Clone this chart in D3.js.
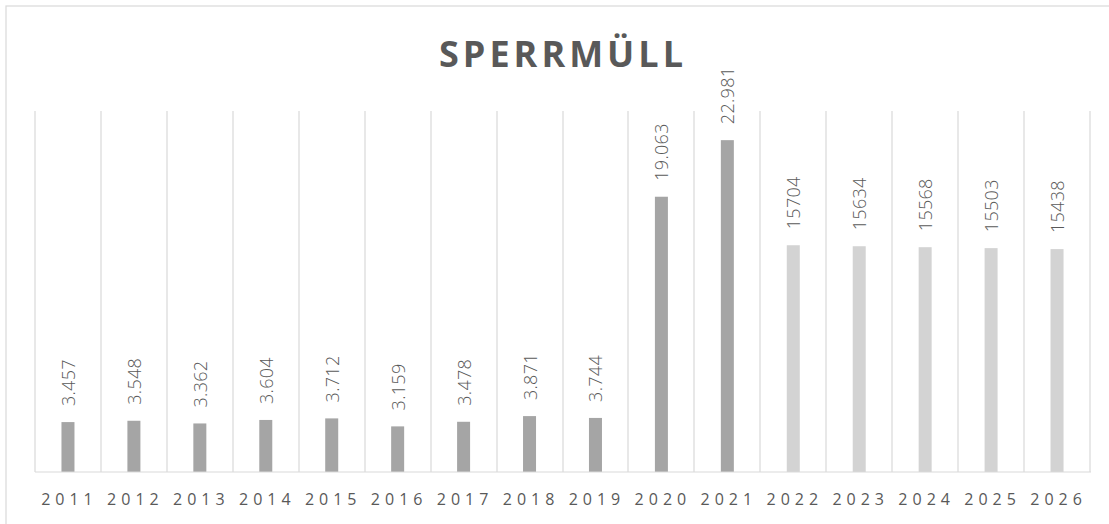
<!DOCTYPE html>
<html><head><meta charset="utf-8">
<script src="https://cdn.jsdelivr.net/npm/d3@7"></script>
<style>html,body{margin:0;padding:0;background:#fff;overflow:hidden}</style>
</head><body>
<svg id="c" width="1109" height="524"></svg>
<script>
const years = ["2011","2012","2013","2014","2015","2016","2017","2018","2019","2020","2021","2022","2023","2024","2025","2026"];
const values = [3457,3548,3362,3604,3712,3159,3478,3871,3744,19063,22981,15704,15634,15568,15503,15438];
const isForecast = [false,false,false,false,false,false,false,false,false,false,false,true,true,true,true,true];
const title = "SPERRMÜLL";

const svg = d3.select("#c");
const pLeft = 35, pRight = 1090, pTop = 111, pBottom = 472;

svg.append("rect").attr("x",6).attr("y",6).attr("width",1110).attr("height",530)
  .attr("fill","#fff").attr("stroke","#d9d9d9").attr("stroke-width",1.2);

const x = d3.scaleBand().domain(years).range([pLeft,pRight]).paddingInner(0).paddingOuter(0);
const y = d3.scaleLinear().domain([0,25000]).range([pBottom,pTop]);

const bounds = years.map(d=>x(d)).concat([x(years[years.length-1])+x.bandwidth()]);
svg.append("g").selectAll("line").data(bounds).join("line")
  .attr("x1",d=>Math.round(d)).attr("x2",d=>Math.round(d))
  .attr("y1",pTop).attr("y2",pBottom)
  .attr("stroke","#d9d9d9").attr("stroke-width",1.2);

const bw = 13;
svg.append("g").selectAll("rect").data(years).join("rect")
  .attr("x",(d)=>x(d)+x.bandwidth()/2-bw/2)
  .attr("width",bw)
  .attr("y",(d,i)=>y(values[i]))
  .attr("height",(d,i)=>pBottom-y(values[i]))
  .attr("fill",(d,i)=>isForecast[i]?"#d3d3d3":"#a5a5a5");

svg.append("line").attr("x1",pLeft).attr("x2",pRight+1).attr("y1",pBottom).attr("y2",pBottom)
  .attr("stroke","#d9d9d9").attr("stroke-width",1.2);

const fmtDE = v => d3.format(",")(v).replace(/,/g,".");
svg.append("g").selectAll("text").data(years).join("text")
  .attr("transform",(d,i)=>`translate(${x(d)+x.bandwidth()/2+7},${y(values[i])-16}) rotate(-90)`)
  .attr("text-anchor","start")
  .attr("font-family","'Open Sans', sans-serif")
  .attr("font-weight",300)
  .attr("font-size",18)
  .attr("letter-spacing",0.3)
  .attr("fill","#595959")
  .text((d,i)=>isForecast[i]?String(values[i]):fmtDE(values[i]));

svg.append("g").selectAll("text").data(years).join("text")
  .attr("x",d=>x(d)+x.bandwidth()/2+1.5)
  .attr("y",505)
  .attr("text-anchor","middle")
  .attr("font-family","'Open Sans', sans-serif")
  .attr("font-size",16)
  .attr("letter-spacing",5)
  .attr("fill","#595959")
  .text(d=>d);

svg.append("text").attr("x",563).attr("y",67)
  .attr("text-anchor","middle")
  .attr("font-family","'Open Sans', sans-serif")
  .attr("font-weight","bold")
  .attr("font-size",36)
  .attr("letter-spacing",4)
  .attr("fill","#595959")
  .text(title);
</script>
</body></html>
